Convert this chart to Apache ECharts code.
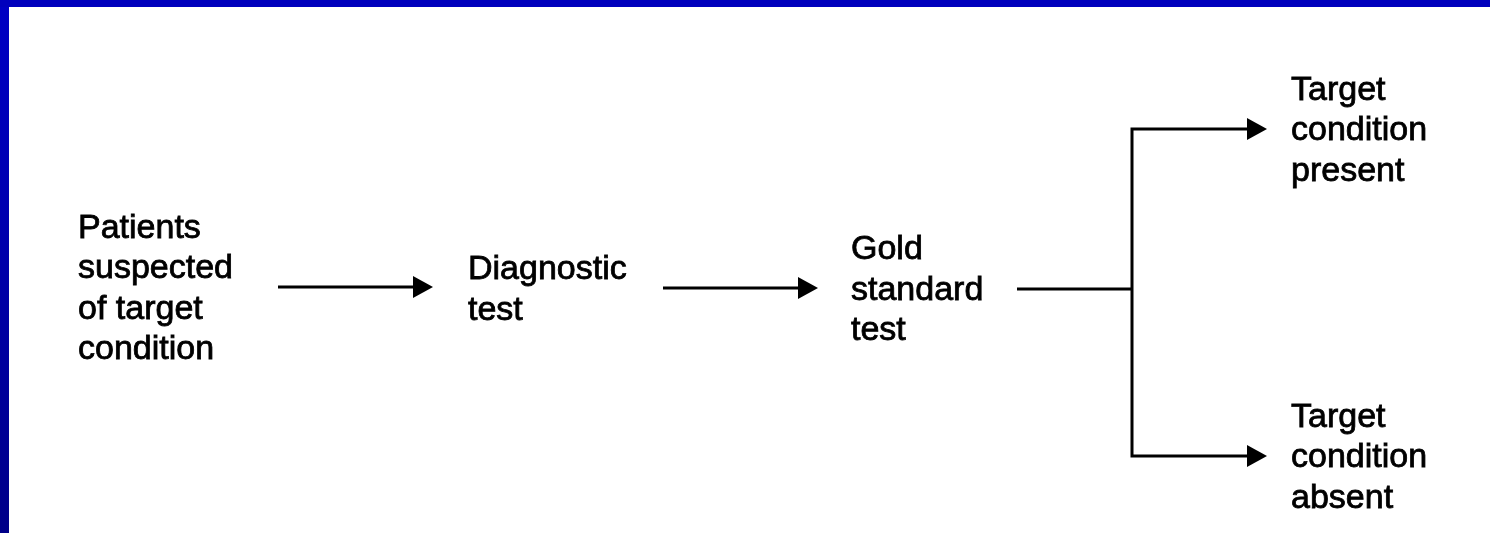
<!DOCTYPE html>
<html>
<head>
<meta charset="utf-8">
<script src="https://cdn.jsdelivr.net/npm/echarts@6/dist/echarts.min.js"></script>
<style>
  html, body { margin: 0; padding: 0; width: 1490px; height: 533px; overflow: hidden; }
  body { background: linear-gradient(180deg, #0000c4 0%, #0000b0 40%, #000088 100%); position: relative; }
  #topband { position: absolute; left: 0; top: 0; width: 1490px; height: 7px; background: #0000bd; }
  #chart { position: absolute; left: 9px; top: 7px; width: 1481px; height: 526px; background: #ffffff; }
</style>
</head>
<body>
<div id="topband"></div>
<div id="chart"></div>
<script>
// ---- Diagram content (page-pixel layout units) ----
const nodeLabels = [
  'Patients\nsuspected\nof target\ncondition',
  'Diagnostic\ntest',
  'Gold\nstandard\ntest',
  'Target\ncondition\npresent',
  'Target\ncondition\nabsent'
];
// anchor = left edge, vertical middle of each text block
const nodeX = [78, 468, 851, 1291, 1291];
const nodeY = [289, 290, 290.5, 131, 458];

// connectors: polylines; arrow = arrowhead at final point
const connectorPoints = [
  [[278, 287], [433, 287]],
  [[663, 288], [818, 288]],
  [[1017, 289], [1132, 289]],
  [[1132, 289], [1132, 129], [1267, 129]],
  [[1132, 289], [1132, 456], [1267, 456]]
];
const connectorArrow = [true, true, false, true, true];

const chart = echarts.init(document.getElementById('chart'), null, { renderer: 'canvas' });

const FONT = '34px "Liberation Sans", Arial, Helvetica, sans-serif';
const HEAD_LEN = 20, HEAD_HALF = 11, LINE_W = 3;

chart.setOption({
  animation: false,
  backgroundColor: '#ffffff',
  grid: { left: 0, right: 0, top: 0, bottom: 0 },
  xAxis: { type: 'value', min: 9, max: 1490, show: false },
  yAxis: { type: 'value', min: 7, max: 533, inverse: true, show: false },
  series: [
    {
      type: 'custom',
      coordinateSystem: 'cartesian2d',
      data: connectorPoints.map((p, i) => [p[0][0], p[0][1], i]),
      encode: { x: 0, y: 1 },
      renderItem: function (params, api) {
        const i = api.value(2);
        const pts = connectorPoints[i].map(p => api.coord(p));
        const children = [];
        const linePts = pts.map(p => p.slice());
        if (connectorArrow[i]) {
          const n = pts.length;
          const tip = pts[n - 1], prev = pts[n - 2];
          const dx = tip[0] - prev[0], dy = tip[1] - prev[1];
          const len = Math.sqrt(dx * dx + dy * dy);
          const ux = dx / len, uy = dy / len;
          const base = [tip[0] - ux * HEAD_LEN, tip[1] - uy * HEAD_LEN];
          linePts[n - 1] = [tip[0] - ux * (HEAD_LEN - 2), tip[1] - uy * (HEAD_LEN - 2)];
          children.push({
            type: 'polygon',
            shape: { points: [tip, [base[0] - uy * HEAD_HALF, base[1] + ux * HEAD_HALF], [base[0] + uy * HEAD_HALF, base[1] - ux * HEAD_HALF]] },
            style: { fill: '#000000' }
          });
        }
        children.unshift({
          type: 'polyline',
          shape: { points: linePts },
          style: { stroke: '#000000', lineWidth: LINE_W, fill: null, lineJoin: 'miter', lineCap: 'butt' }
        });
        return { type: 'group', children: children };
      },
      silent: true,
      z: 2
    },
    {
      type: 'custom',
      coordinateSystem: 'cartesian2d',
      data: nodeLabels.map((t, i) => [nodeX[i], nodeY[i], i]),
      encode: { x: 0, y: 1 },
      renderItem: function (params, api) {
        const i = api.value(2);
        const p = api.coord([api.value(0), api.value(1)]);
        return {
          type: 'text',
          x: p[0],
          y: p[1],
          style: {
            text: nodeLabels[i],
            font: FONT,
            fill: '#000000',
            stroke: '#000000',
            lineWidth: 0.8,
            align: 'left',
            verticalAlign: 'middle',
            lineHeight: 40.5
          }
        };
      },
      silent: true,
      z: 3
    }
  ]
});
</script>
</body>
</html>
